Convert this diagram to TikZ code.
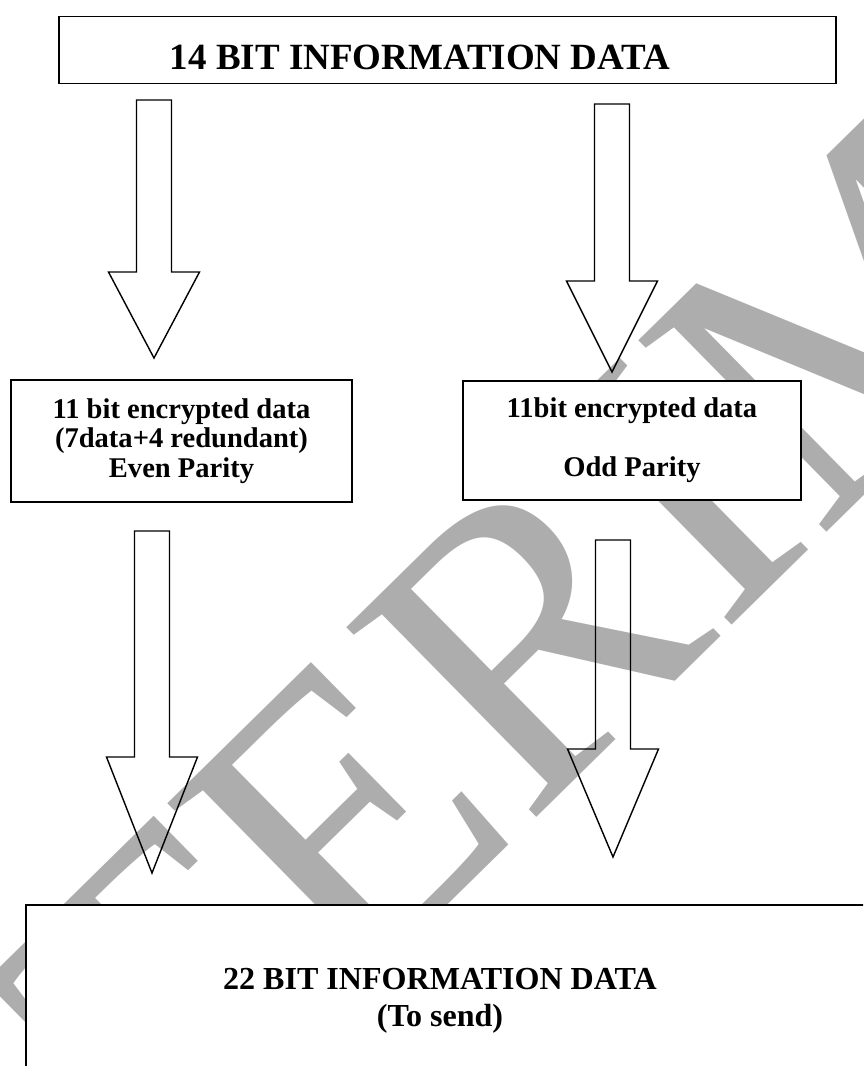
\documentclass[tikz,border=0pt]{standalone}
\usepackage{fontspec}
\setmainfont{Liberation Serif}
\definecolor{wmgray}{RGB}{173,173,173}

\begin{document}
\begin{tikzpicture}[x=0.025cm, y=-0.025cm,
  box/.style={rectangle, draw=black, line width=1.3pt, fill=white, inner sep=0pt},
  boxtext/.style={font=\fontsize{20.3}{21}\selectfont\bfseries, align=center},
  blockarrow/.style={draw=black, line width=1pt, line join=miter}
]
% Page frame
\useasboundingbox (0,0) rectangle (863,1066);
\clip (0,0) rectangle (863,1066);

% Watermark
\node[text=wmgray, font=\fontsize{291.6}{300}\selectfont, rotate=44.5,
      anchor=base west, inner sep=0pt] (stamp) at (-140,1482) {INTERIM};

% Boxes
\node[box, minimum width=19.425cm, minimum height=1.675cm] (info14) at (447.5,50) {};
\node[font=\fontsize{26.3}{30}\selectfont\bfseries] (title14) at (420,57)
  {14 BIT INFORMATION DATA};

\node[box, boxtext, minimum width=8.525cm, minimum height=3.05cm] (even) at (181.5,441)
  {11 bit encrypted data\\(7data+4 redundant)\\Even Parity};

\node[box, boxtext, minimum width=8.45cm, minimum height=2.975cm] (odd) at (632,440.5)
  {11bit encrypted data\\[21pt]Odd Parity};

\node[box, minimum width=22.35cm, minimum height=5.375cm] (info22) at (473,1012.5) {};
\node[font=\fontsize{22.8}{26.3}\selectfont\bfseries, align=center] (title22) at (440,1001)
  {22 BIT INFORMATION DATA\\(To send)};

% Block arrows: x / shaft top / head base / tip
\foreach \x/\ys/\yb/\yt in {154/100/272/358, 612/104/281/372,
                            152/531/757/873, 613/540/749/857}
  \draw[blockarrow] (\x-17.5,\ys) -- (\x+17.5,\ys) -- (\x+17.5,\yb) -- (\x+45.5,\yb)
    -- (\x,\yt) -- (\x-45.5,\yb) -- (\x-17.5,\yb) -- cycle;
\end{tikzpicture}
\end{document}
